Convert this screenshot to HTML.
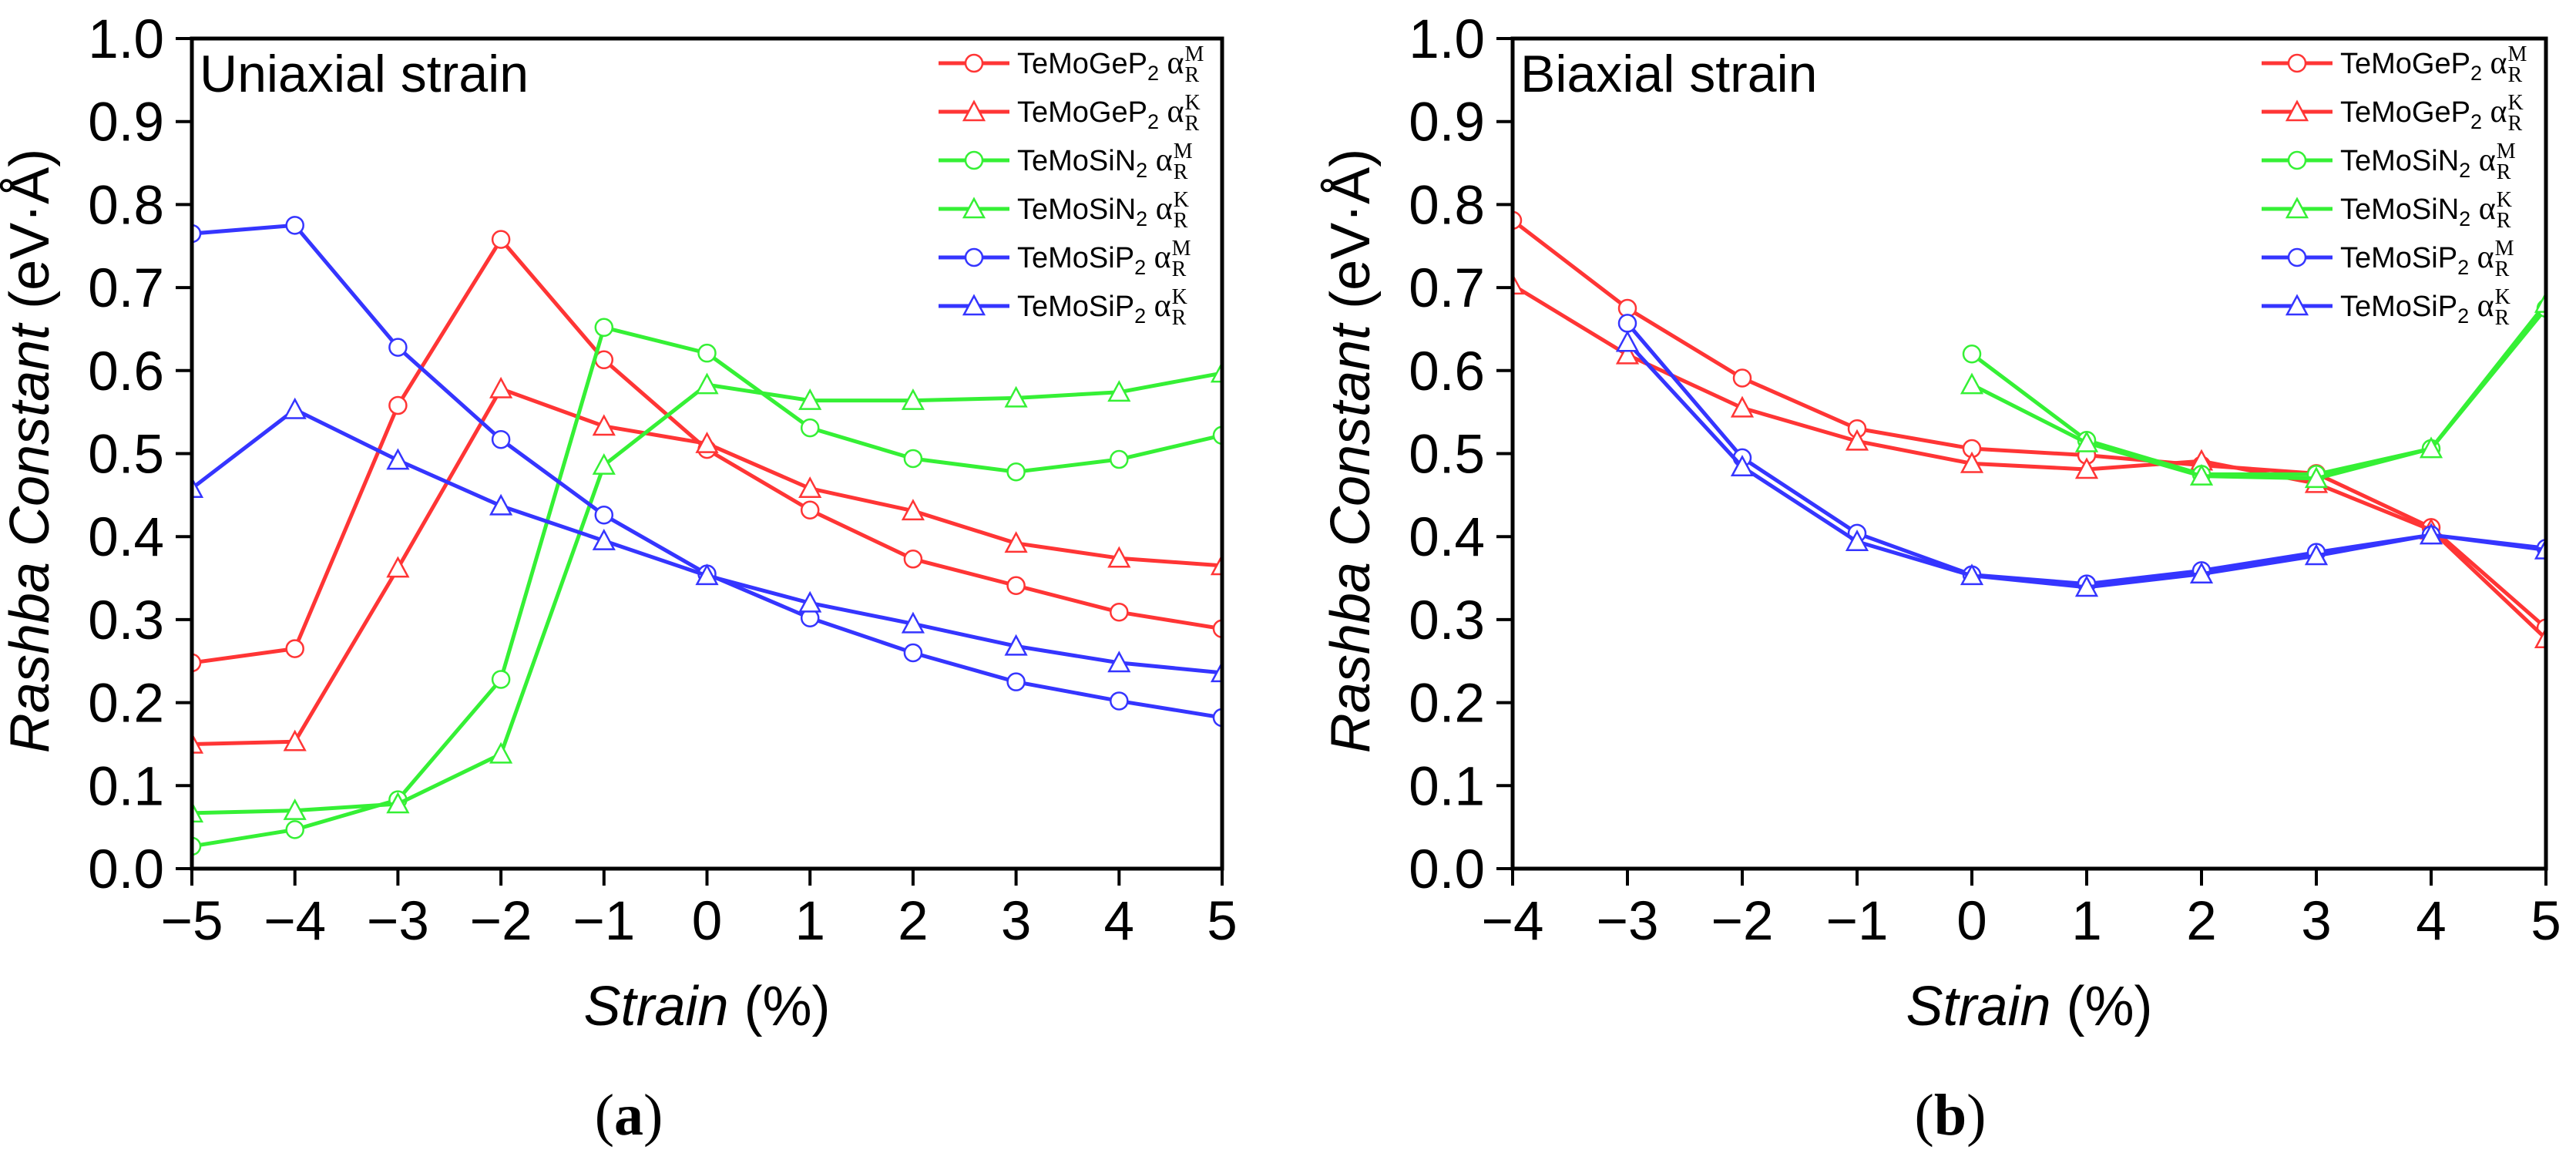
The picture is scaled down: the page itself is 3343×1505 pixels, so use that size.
<!DOCTYPE html>
<html><head><meta charset="utf-8">
<style>
html,body{margin:0;padding:0;background:#fff;}
svg{display:block;font-family:"Liberation Sans",sans-serif;}
</style></head>
<body>
<svg id="chart" xmlns="http://www.w3.org/2000/svg" width="3343" height="1505" viewBox="0 0 3343 1505">
<rect width="3343" height="1505" fill="#fff"/>
</svg>
<script>
// ---- data ----
const xA = [-5,-4,-3,-2,-1,0,1,2,3,4,5];
const xB = [-4,-3,-2,-1,0,1,2,3,4,5];
const yTicks = [0,0.1,0.2,0.3,0.4,0.5,0.6,0.7,0.8,0.9,1.0];
const yTickLabels = ["0.0","0.1","0.2","0.3","0.4","0.5","0.6","0.7","0.8","0.9","1.0"];
const seriesNames = ["TeMoGeP","TeMoGeP","TeMoSiN","TeMoSiN","TeMoSiP","TeMoSiP"];
const seriesPoints = ["M","K","M","K","M","K"];
// panel a (uniaxial)
const aGePM = [0.248,0.265,0.558,0.758,0.613,0.505,0.432,0.373,0.341,0.309,0.289];
const aGePK = [0.150,0.153,0.362,0.578,0.533,0.512,0.458,0.431,0.392,0.374,0.365];
const aSiNM = [0.027,0.047,0.083,0.228,0.652,0.621,0.531,0.494,0.478,0.493,0.522];
const aSiNK = [0.067,0.070,0.078,0.138,0.486,0.583,0.564,0.564,0.567,0.574,0.597];
const aSiPM = [0.765,0.775,0.628,0.517,0.426,0.355,0.302,0.260,0.225,0.202,0.182];
const aSiPK = [0.458,0.553,0.492,0.437,0.395,0.353,0.320,0.295,0.268,0.248,0.236];
// panel b (biaxial)
const bGePM = [0.781,0.675,0.591,0.530,0.506,0.498,0.486,0.476,0.411,0.290];
const bGePK = [0.703,0.619,0.555,0.515,0.488,0.481,0.491,0.464,0.408,0.277];
const bSiNM = [null,null,null,null,0.620,0.516,0.475,0.475,0.506,0.675];
const bSiNK = [null,null,null,null,0.583,0.513,0.473,0.470,0.506,0.681];
const bSiPM = [null,0.657,0.495,0.404,0.354,0.343,0.359,0.381,0.402,0.386];
const bSiPK = [null,0.634,0.484,0.394,0.353,0.339,0.355,0.377,0.402,0.384];

const colors = ["#ff3535","#ff3535","#35f035","#35f035","#3535ff","#3535ff"];
const SERIF = '"Liberation Serif", serif';
const NS = "http://www.w3.org/2000/svg";
const svg = document.getElementById("chart");
function mk(tag, attrs, parent){ const e=document.createElementNS(NS,tag); for(const k in attrs) e.setAttribute(k,attrs[k]); (parent||svg).appendChild(e); return e; }

function marker(g, shape, cx, cy, color){
  let m;
  if(shape==="M"){ m = mk("circle",{cx:cx,cy:cy,r:11,fill:"#fff",stroke:color,"stroke-width":2.5},g); }
  else { const s=13; m = mk("polygon",{points:`${cx},${cy-s} ${cx-s},${cy+s*0.85} ${cx+s},${cy+s*0.85}`,fill:"#fff",stroke:color,"stroke-width":2.5},g); }
  return m;
}

function panel(cfg){
  const {L,R,T,B,xs,xmin,xmax,series,title,tag,pfx,legX} = cfg;
  const g = mk("g",{});
  
  
  const xS = v => L + (v-xmin)/(xmax-xmin)*(R-L);
  const yS = v => B - v*(B-T);
  const clipId = pfx+"-clip";
  const cp = mk("clipPath",{id:clipId},g); mk("rect",{x:L,y:T,width:R-L,height:B-T},cp);
  const plot = mk("g",{"clip-path":`url(#${clipId})`},g);
  series.forEach((arr,si)=>{
    const sg = mk("g",{},plot);
    
    
    let d="";
    arr.forEach((v,i)=>{ if(v===null) return; d += (d?"L":"M")+xS(xs[i])+","+yS(v); });
    const ln = mk("path",{d:d,fill:"none",stroke:colors[si],"stroke-width":5,"stroke-linejoin":"round"},sg);
    
    
    arr.forEach((v,i)=>{ if(v===null) return;
      const m = marker(sg, seriesPoints[si], xS(xs[i]), yS(v), colors[si]);
      
      
    });
  });
  const fr = mk("rect",{x:L,y:T,width:R-L,height:B-T,fill:"none",stroke:"#000","stroke-width":5},g);
  
  
  const yax = mk("g",{},g);
  
  
  yTicks.forEach((v,i)=>{
    mk("line",{x1:L-21,x2:L,y1:yS(v),y2:yS(v),stroke:"#000","stroke-width":4},yax);
    const t = mk("text",{x:L-36,y:yS(v)+25,"font-size":71,"text-anchor":"end",fill:"#000"},yax);
    t.textContent = yTickLabels[i];
    
    
  });
  const xax = mk("g",{},g);
  
  
  xs.forEach(v=>{
    mk("line",{x1:xS(v),x2:xS(v),y1:B,y2:B+22,stroke:"#000","stroke-width":4},xax);
    const t = mk("text",{x:xS(v),y:B+92,"font-size":71,"text-anchor":"middle",fill:"#000"},xax);
    t.textContent = v<0 ? "\u2212"+Math.abs(v) : String(v);
    
    
  });
  const xt = mk("text",{x:(L+R)/2,y:1330,"font-size":72,"text-anchor":"middle",fill:"#000"},g);
  xt.innerHTML = '<tspan font-style="italic">Strain</tspan> (%)';
  
  
  const yx = L-186, yc = 585;
  const yt = mk("text",{x:yx,y:yc,"font-size":72,"text-anchor":"middle",fill:"#000",transform:`rotate(-90 ${yx} ${yc})`},g);
  yt.innerHTML = '<tspan font-style="italic">Rashba Constant</tspan> (eV·Å)';
  
  
  const tt = mk("text",{x:L+10,y:119,"font-size":68,fill:"#000"},g);
  tt.textContent = title;
  
  
  const tg = mk("text",{x:cfg.tagX,y:1472,"font-size":76,"text-anchor":"middle",fill:"#000",style:"font-family:"+SERIF},g);
  tg.innerHTML = '(<tspan font-weight="bold">'+tag+'</tspan>)';
  
  
  const lg = mk("g",{},g);
  
  
  seriesNames.forEach((n,i)=>{
    const y = 82 + i*63;
    const e = mk("g",{},lg);
    
    
    mk("line",{x1:legX,x2:legX+92,y1:y,y2:y,stroke:colors[i],"stroke-width":5},e);
    marker(e, seriesPoints[i], legX+46, y, colors[i]);
    const tx = legX+102;
    const t = mk("text",{x:tx,y:y+13,"font-size":38,fill:"#000"},e);
    t.innerHTML = n+'<tspan font-size="27" dy="9">2</tspan><tspan dy="-9" style="font-family:'+SERIF.replace(/"/g,"'")+'" font-size="42"> α</tspan>';
    const bb = t.getBBox();
    const sx = bb.x+bb.width+1;
    const sup = mk("text",{x:sx,y:y-3,"font-size":28,fill:"#000",style:"font-family:"+SERIF},e);
    sup.textContent = seriesPoints[i];
    const sub = mk("text",{x:sx,y:y+24,"font-size":28,fill:"#000",style:"font-family:"+SERIF},e);
    sub.textContent = "R";
  });
}

panel({L:249,R:1586,T:50,B:1127,xs:xA,xmin:-5,xmax:5,
  series:[aGePM,aGePK,aSiNM,aSiNK,aSiPM,aSiPK],title:"Uniaxial strain",tag:"a",pfx:"panel-a",legX:1218,tagX:816});
panel({L:1963,R:3304,T:50,B:1127,xs:xB,xmin:-4,xmax:5,
  series:[bGePM,bGePK,bSiNM,bSiNK,bSiPM,bSiPK],title:"Biaxial strain",tag:"b",pfx:"panel-b",legX:2935,tagX:2531});
</script>
</body></html>
